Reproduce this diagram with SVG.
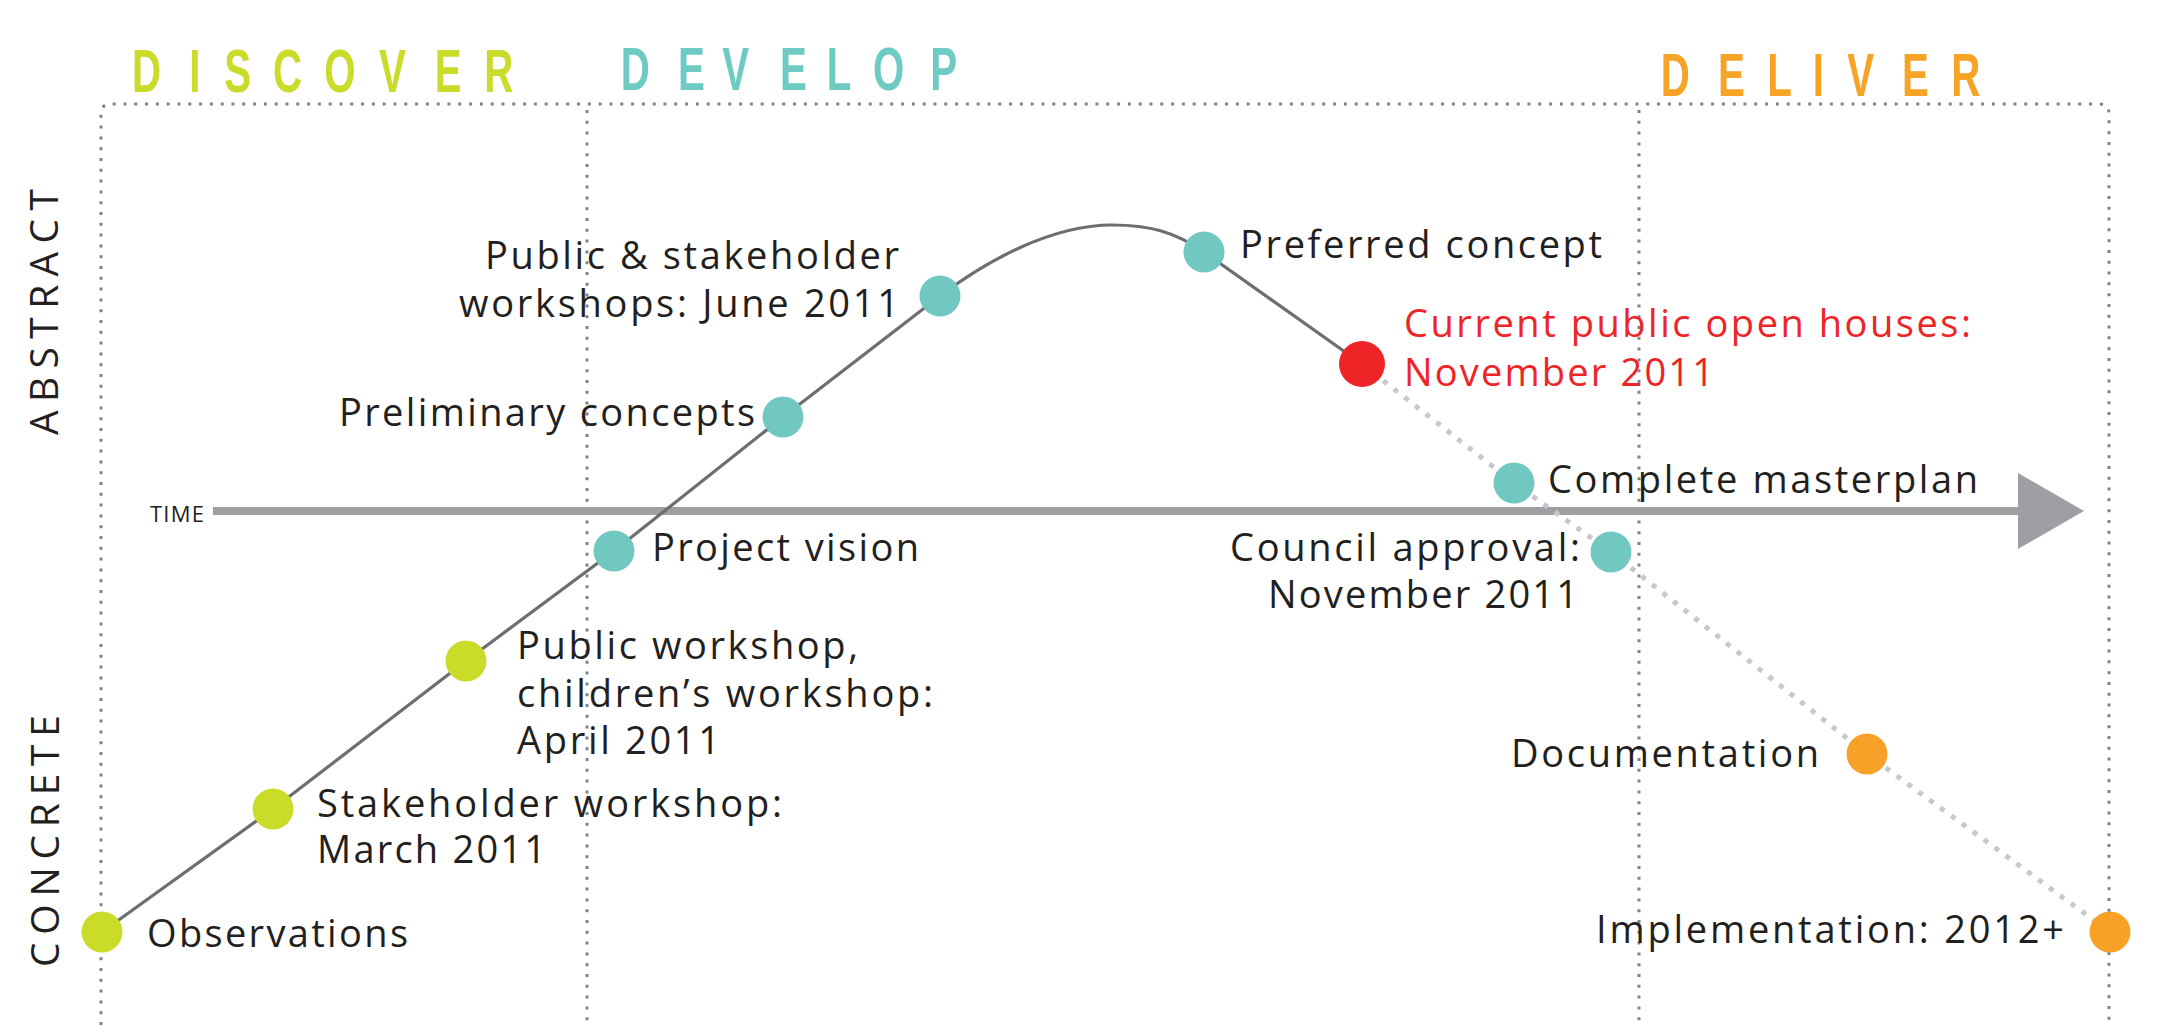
<svg xmlns="http://www.w3.org/2000/svg" width="2160" height="1025" viewBox="0 0 2160 1025">
<style>
.lbl{font-family:"Open Sans","Noto Sans","Liberation Sans",sans-serif;font-size:38px;fill:#231f20}
.red{fill:#ee2427}
.hdr{font-family:"Liberation Sans",Arial,sans-serif;font-weight:bold;font-size:62px}
.side{font-family:"Open Sans","Noto Sans","Liberation Sans",sans-serif;font-size:39px;fill:#231f20}
.frame{fill:none;stroke:#808285;stroke-width:3;stroke-dasharray:3 7.8}
.g{fill:#cbdb2a}.t{fill:#71c8c0}.r{fill:#ee2427}.o{fill:#f7a128}
</style>
<rect width="2160" height="1025" fill="#ffffff"/>

<g id="headers">
<text class="hdr" fill="#cbdb2a" transform="scale(0.65 1)" x="203 291 345 420 499 583 669 745" y="92">DISCOVER</text>
<text class="hdr" fill="#6ecbc4" transform="scale(0.65 1)" x="955 1043 1111 1200 1272 1343 1431" y="90">DEVELOP</text>
<text class="hdr" fill="#f7a326" transform="scale(0.65 1)" x="2555 2643 2719 2789 2842 2926 3002" y="96">DELIVER</text>
</g>

<g id="axis-labels">
<text class="side" transform="translate(58 435) rotate(-90)" textLength="246" lengthAdjust="spacing">ABSTRACT</text>
<text class="side" transform="translate(59 967) rotate(-90)" textLength="252" lengthAdjust="spacing">CONCRETE</text>
</g>

<g id="frame">
<path class="frame" d="M101 1025 V114 Q101 104 111 104 H2099 Q2109 104 2109 114 V1025"/>
<line class="frame" x1="587" y1="110" x2="587" y2="1025"/>
<line class="frame" x1="1639" y1="110" x2="1639" y2="1025"/>
</g>

<g id="time-axis">
<line x1="213" y1="511" x2="2022" y2="511" stroke="#9d9fa2" stroke-width="8"/>
<polygon points="2018,473 2084,511 2018,549" fill="#9d9fa2"/>
<text x="150" y="522" font-family="'Open Sans','Noto Sans',sans-serif" font-size="22" fill="#231f20" textLength="54" lengthAdjust="spacing">TIME</text>
</g>

<g id="connectors">
<path d="M102 932 L273 809 L466 661 L614 551 L783 417 L940 296 C985 262 1050 225 1112 225 C1150 225 1175 232 1204 252 L1362 364" fill="none" stroke="#6d6e71" stroke-width="3.2" stroke-linejoin="round"/>
<path d="M1362 364 L1514 483 L1611 552 L1867 754 L2110 932" fill="none" stroke="#c7c8ca" stroke-width="5" stroke-dasharray="5 8.5"/>
</g>

<g id="observations"><circle class="g" cx="102" cy="932" r="20.5"/><text class="lbl" x="147" y="947" textLength="261" lengthAdjust="spacing">Observations</text></g>

<g id="stakeholder-workshop"><circle class="g" cx="273" cy="809" r="20.5"/>
<text class="lbl" x="317" y="817" textLength="465" lengthAdjust="spacing">Stakeholder workshop:</text>
<text class="lbl" x="317" y="863" textLength="229" lengthAdjust="spacing">March 2011</text></g>

<g id="public-workshop"><circle class="g" cx="466" cy="661" r="20.5"/>
<text class="lbl" x="517" y="659" textLength="341" lengthAdjust="spacing">Public workshop,</text>
<text class="lbl" x="517" y="707" textLength="416" lengthAdjust="spacing">children’s workshop:</text>
<text class="lbl" x="517" y="754" textLength="203" lengthAdjust="spacing">April 2011</text></g>

<g id="project-vision"><circle class="t" cx="614" cy="551" r="20.5"/>
<text class="lbl" x="652" y="561" textLength="267" lengthAdjust="spacing">Project vision</text></g>

<g id="preliminary-concepts"><circle class="t" cx="783" cy="417" r="20.5"/>
<text class="lbl" x="339" y="426" textLength="416" lengthAdjust="spacing">Preliminary concepts</text></g>

<g id="public-stakeholder-workshops"><circle class="t" cx="940" cy="296" r="20.5"/>
<text class="lbl" x="485" y="269" textLength="414" lengthAdjust="spacing">Public &amp; stakeholder</text>
<text class="lbl" x="459" y="317" textLength="440" lengthAdjust="spacing">workshops: June 2011</text></g>

<g id="preferred-concept"><circle class="t" cx="1204" cy="252" r="20.5"/>
<text class="lbl" x="1240" y="258" textLength="362" lengthAdjust="spacing">Preferred concept</text></g>

<g id="current-open-houses"><circle class="r" cx="1362" cy="364" r="23"/>
<text class="lbl red" x="1404" y="337" textLength="567" lengthAdjust="spacing">Current public open houses:</text>
<text class="lbl red" x="1404" y="386" textLength="310" lengthAdjust="spacing">November 2011</text></g>

<g id="complete-masterplan"><circle class="t" cx="1514" cy="483" r="20.5"/>
<text class="lbl" x="1548" y="493" textLength="430" lengthAdjust="spacing">Complete masterplan</text></g>

<g id="council-approval"><circle class="t" cx="1611" cy="552" r="20.5"/>
<text class="lbl" x="1230" y="561" textLength="350" lengthAdjust="spacing">Council approval:</text>
<text class="lbl" x="1268" y="608" textLength="310" lengthAdjust="spacing">November 2011</text></g>

<g id="documentation"><circle class="o" cx="1867" cy="754" r="20.5"/>
<text class="lbl" x="1511" y="767" textLength="308" lengthAdjust="spacing">Documentation</text></g>

<g id="implementation"><circle class="o" cx="2110" cy="932" r="20.5"/>
<text class="lbl" x="1596" y="943" textLength="468" lengthAdjust="spacing">Implementation: 2012+</text></g>
</svg>
